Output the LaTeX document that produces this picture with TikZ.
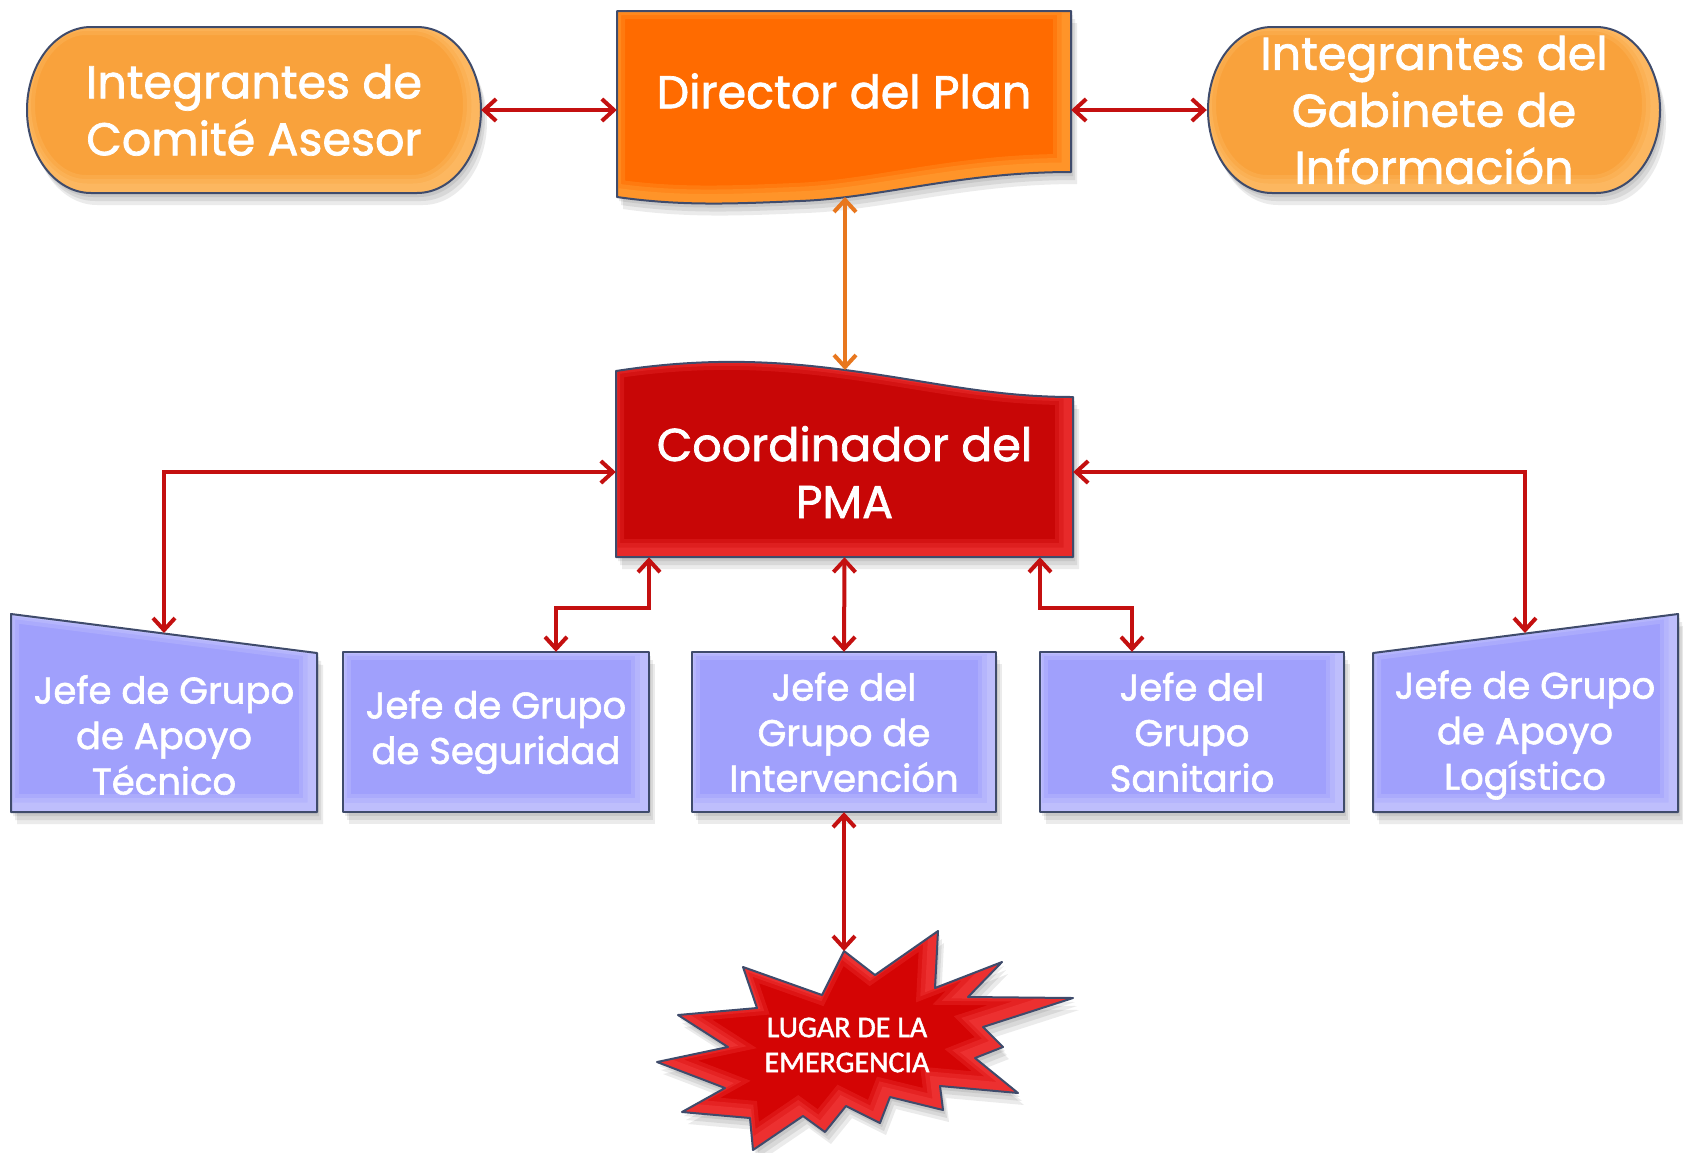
\documentclass[tikz,border=0pt]{standalone}
\usepackage{fontspec}
\setmainfont{Poppins}[BoldFont=Poppins, BoldFeatures={FakeBold=1.6}]
\newfontfamily\starfamily{Carlito}[BoldFont=Carlito, BoldFeatures={FakeBold=1.6}]
\usetikzlibrary{arrows.meta}
\definecolor{pillfill}{HTML}{F9A23C}
\definecolor{pillrim}{HTML}{FFC77A}
\definecolor{dirfill}{HTML}{FF6B00}
\definecolor{dirrim}{HTML}{FFB347}
\definecolor{coordfill}{HTML}{C80606}
\definecolor{coordrim}{HTML}{FF4545}
\definecolor{bluefill}{HTML}{A0A0FC}
\definecolor{bluerim}{HTML}{D6D6FF}
\definecolor{starfill}{HTML}{D40404}
\definecolor{starrim}{HTML}{FF5050}
\definecolor{bordercol}{HTML}{3F4B6B}
\definecolor{arrred}{HTML}{C41010}
\definecolor{arrorange}{HTML}{E8771E}
\newcommand\fTop{\bfseries\fontsize{46pt}{57pt}\selectfont}
\newcommand\fBox{\bfseries\fontsize{37pt}{45.5pt}\selectfont}
\newcommand\fStar{\starfamily\bfseries\fontsize{30pt}{35pt}\selectfont}
\newcommand\bshape[3]{%
  \fill[black,opacity=0.08,shift={(2,4)}] #1;
  \fill[black,opacity=0.08,shift={(4,8)}] #1;
  \fill[black,opacity=0.08,shift={(6,12)}] #1;
  \fill[#2] #1;
  \begin{scope}\clip #1;
    \draw[#3, line width=26pt, opacity=0.22, shift={(-5,-5)}] #1;
    \draw[#3, line width=18pt, opacity=0.25, shift={(-5,-5)}] #1;
    \draw[#3, line width=11pt, opacity=0.3, shift={(-4,-4)}] #1;
  \end{scope}
  \draw[bordercol, line width=2pt, line join=round] #1;
}
\def\pPillL{(91,27) -- (417,27) arc[start angle=90,end angle=-90,x radius=64pt,y radius=83pt] -- (91,193) arc[start angle=270,end angle=90,x radius=64pt,y radius=83pt] -- cycle}
\def\pPillR{(1272,27) -- (1596,27) arc[start angle=90,end angle=-90,x radius=64pt,y radius=83pt] -- (1272,193) arc[start angle=270,end angle=90,x radius=64pt,y radius=83pt] -- cycle}
\def\pDir{(617,11) -- (1071,11) -- (1071,172) .. controls (960,172) and (880,198) .. (800,201) .. controls (730,204) and (680,206) .. (617,197) -- cycle}
\def\pCoord{(616,371) .. controls (700,358) and (770,360) .. (845,370) .. controls (930,381) and (990,397) .. (1073,397) -- (1073,557) -- (616,557) -- cycle}
\def\pBa{(11,614) -- (317,653) -- (317,812) -- (11,812) -- cycle}
\def\pBb{(343,652) rectangle (649,812)}
\def\pBc{(692,652) rectangle (996,812)}
\def\pBd{(1040,652) rectangle (1344,812)}
\def\pBe{(1373,653) -- (1678,614) -- (1678,812) -- (1373,812) -- cycle}
\def\pStar{(844,951) -- (875,975) -- (938,931) -- (935,988) -- (1002,962) -- (968,997) -- (1073,998) -- (983,1027) -- (1003,1047) -- (975,1058) -- (1018,1093) -- (940,1086) -- (943,1110) -- (890,1097) -- (880,1123) -- (846,1106) -- (825,1132) -- (803,1116) -- (753,1150) -- (750,1118) -- (682,1112) -- (725,1088) -- (657,1062) -- (728,1047) -- (678,1015) -- (757,1008) -- (743,967) -- (822,995) -- cycle}
\tikzset{
  txt/.style={text=white, align=center, inner sep=0pt},
  arr/.style={draw=arrred, line width=4pt, <->, >={Straight Barb[length=12pt,width=22pt]}},
  oarr/.style={draw=arrorange, line width=4pt, <->, >={Straight Barb[length=12pt,width=22pt]}}
}
\begin{document}
\begin{tikzpicture}[x=1pt,y=-1pt]
\fill[white] (0,0) rectangle (1683,1152);
\useasboundingbox (0,0) rectangle (1683,1152);
% shapes
\bshape{\pPillL}{pillfill}{pillrim}
\bshape{\pPillR}{pillfill}{pillrim}
\bshape{\pDir}{dirfill}{dirrim}
\bshape{\pCoord}{coordfill}{coordrim}
\bshape{\pBa}{bluefill}{bluerim}
\bshape{\pBb}{bluefill}{bluerim}
\bshape{\pBc}{bluefill}{bluerim}
\bshape{\pBd}{bluefill}{bluerim}
\bshape{\pBe}{bluefill}{bluerim}
\bshape{\pStar}{starfill}{starrim}
% text nodes
\node[txt, font=\fTop, minimum width=454pt, minimum height=166pt] (pillL) at (254,110) {Integrantes de\\Comité Asesor};
\node[txt, font=\fTop, minimum width=454pt, minimum height=166pt] (pillR) at (1434,110) {Integrantes del\\Gabinete de\\Información};
\node[txt, font=\fTop, minimum width=454pt, minimum height=120pt] (dir) at (844,91) {Director del Plan};
\node[txt, font=\fTop, minimum width=457pt, minimum height=170pt] (coord) at (844.5,472) {Coordinador del\\PMA};
\node[txt, font=\fBox] (b1) at (164,735) {Jefe de Grupo\\de Apoyo\\Técnico};
\node[txt, font=\fBox, minimum width=306pt, minimum height=160pt] (b2) at (496,732) {Jefe de Grupo\\de Seguridad};
\node[txt, font=\fBox, minimum width=304pt, minimum height=160pt] (b3) at (844,732) {Jefe del\\Grupo de\\Intervención};
\node[txt, font=\fBox, minimum width=304pt, minimum height=160pt] (b4) at (1192,732) {Jefe del\\Grupo\\Sanitario};
\node[txt, font=\fBox] (b5) at (1525,735) {Jefe de Grupo\\de Apoyo\\Logístico};
\node[txt, font=\fStar] (star) at (847,1045) {LUGAR DE LA\\EMERGENCIA};
% connector ends on irregular edges
\coordinate (dirB) at (845,197);
\coordinate (coordT) at (845,370);
\coordinate (b1T) at (164,633);
\coordinate (b5T) at (1525,633);
\coordinate (starT) at (844,951);
% connectors
\draw[arr] (pillL.east) -- (pillL.east -| dir.west);
\draw[arr] (dir.east |- pillR.west) -- (pillR.west);
\draw[oarr] (dirB) -- (coordT);
\draw[arr] (coord.west) -| (b1T);
\draw[arr] (coord.east) -| (b5T);
\draw[arr] ([xshift=-195.5pt]coord.south) -- ++(0,51) -| ([xshift=60pt]b2.north);
\draw[arr] (coord.south) -- (b3.north);
\draw[arr] ([xshift=195.5pt]coord.south) -- ++(0,51) -| ([xshift=-60pt]b4.north);
\draw[arr] (b3.south) -- (starT);
\end{tikzpicture}
\end{document}
